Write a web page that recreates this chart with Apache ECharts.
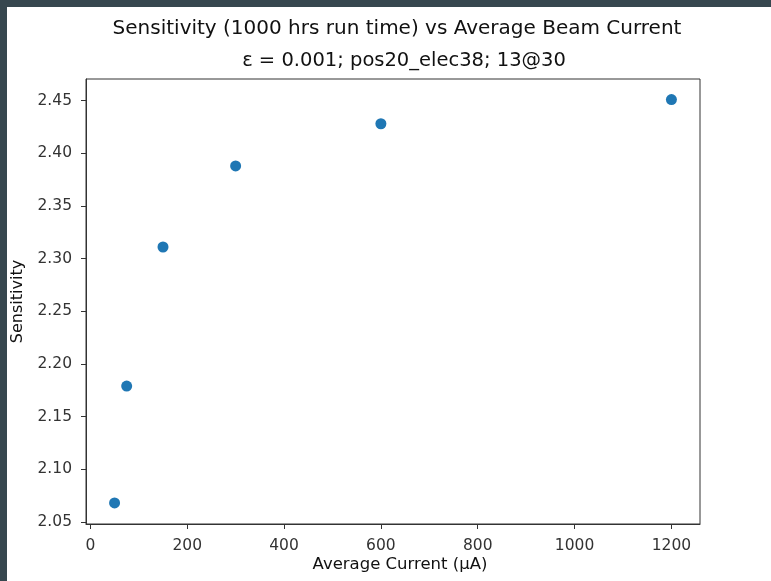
<!DOCTYPE html>
<html>
<head>
<meta charset="utf-8">
<script src="https://cdn.jsdelivr.net/npm/echarts@6/dist/echarts.min.js"></script>
<style>
html,body{margin:0;padding:0;background:#fff;}
#chart{width:771px;height:581px;}
</style>
</head>
<body>
<div id="chart"></div>
<script>
const currents = [50, 75, 150, 300, 600, 1200];
const sensitivity = [2.068, 2.179, 2.311, 2.388, 2.428, 2.451];
const xTicks = [0, 200, 400, 600, 800, 1000, 1200];
const yTicks = [2.05, 2.10, 2.15, 2.20, 2.25, 2.30, 2.35, 2.40, 2.45];
const titleText = 'Sensitivity (1000 hrs run time) vs Average Beam Current';
const subtitleText = 'ε = 0.001; pos20_elec38; 13@30';
const xName = 'Average Current (μA)';
const yName = 'Sensitivity';

const chart = echarts.init(document.getElementById('chart'));
const font = 'DejaVu Sans';
chart.setOption({
  animation: false,
  backgroundColor: '#fff',
  graphic: [
    {type: 'rect', shape: {x: 0, y: 0, width: 771, height: 7}, style: {fill: '#37474f'}, z: 100},
    {type: 'rect', shape: {x: 0, y: 0, width: 7, height: 581}, style: {fill: '#37474f'}, z: 100}
  ],
  title: [
    {text: titleText, left: 392, top: 14, textAlign: 'center',
     textStyle: {fontFamily: font, fontSize: 20, fontWeight: 'normal', color: '#111'}},
    {text: subtitleText, left: 399, top: 46, textAlign: 'center',
     textStyle: {fontFamily: font, fontSize: 19.5, fontWeight: 'normal', color: '#111'}}
  ],
  grid: {left: 86, right: 71, top: 79, bottom: 57, show: true, borderColor: '#333', borderWidth: 1,
         outerBoundsMode: 'none', containLabel: false},
  xAxis: {
    type: 'value', min: -9, max: 1259,
    name: xName, nameLocation: 'middle', nameGap: 32, nameMoveOverlap: false,
    nameTextStyle: {fontFamily: font, fontSize: 16.5, color: '#111', padding: [0, 0, 0, 14]},
    axisLine: {show: true, onZero: false, lineStyle: {color: '#333'}},
    axisTick: {show: true, length: 5, customValues: xTicks, lineStyle: {color: '#333'}},
    axisLabel: {customValues: xTicks, fontFamily: font, fontSize: 15.5, color: '#333', margin: 14,
      formatter: v => String(v)},
    splitLine: {show: false}
  },
  yAxis: {
    type: 'value', min: 2.048, max: 2.4705,
    name: yName, nameLocation: 'middle', nameGap: 60, nameRotate: 90,
    nameTextStyle: {fontFamily: font, fontSize: 16, color: '#111'},
    axisLine: {show: true, onZero: false, lineStyle: {color: '#333'}},
    axisTick: {show: true, length: 5, customValues: yTicks, lineStyle: {color: '#333'}},
    axisLabel: {customValues: yTicks, fontFamily: font, fontSize: 15.5, color: '#333', margin: 14,
      formatter: v => v.toFixed(2)},
    splitLine: {show: false}
  },
  series: [{
    type: 'scatter',
    data: currents.map((c, i) => [c, sensitivity[i]]),
    symbol: 'circle', symbolSize: 11,
    itemStyle: {color: '#1f77b4', opacity: 1}
  }]
});
</script>
</body>
</html>
